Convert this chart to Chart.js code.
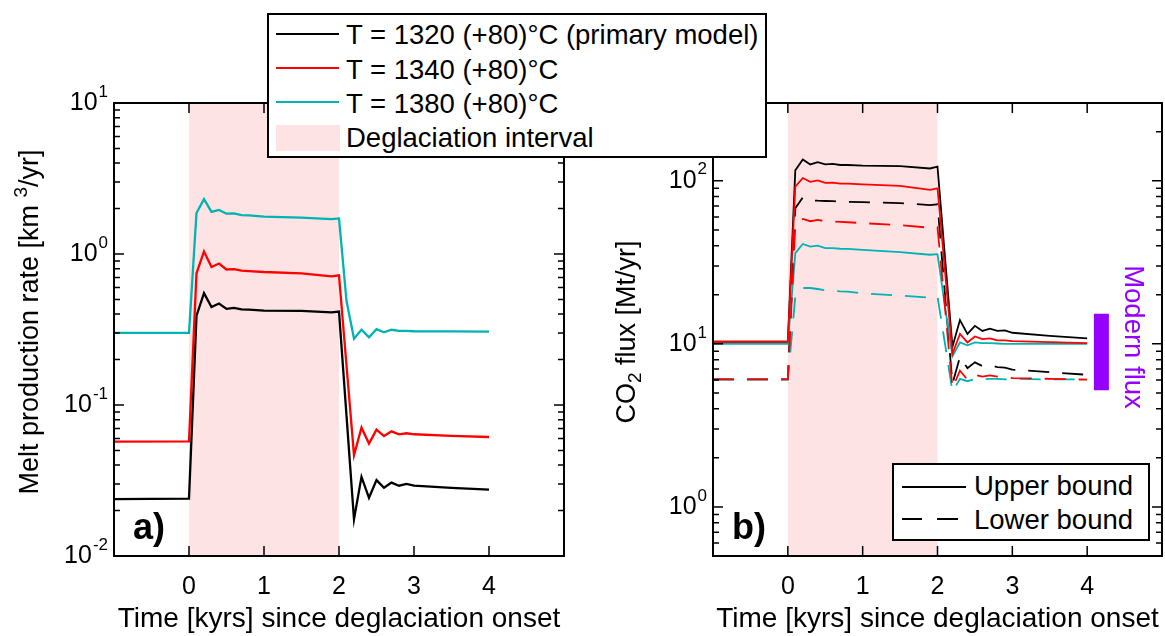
<!DOCTYPE html>
<html>
<head>
<meta charset="utf-8">
<script src="https://cdn.jsdelivr.net/npm/chart.js@4.4.1/dist/chart.umd.min.js"></script>
<style>
  html, body { margin: 0; padding: 0; background: #fff; }
  #fig { position: relative; width: 1165px; height: 636px; overflow: hidden;
         font-family: "Liberation Sans", Arial, Helvetica, sans-serif; color: #000; }
  #meltCanvas { position: absolute; left: 0; top: 0; }
  #fluxCanvas { position: absolute; left: 590px; top: 0; }
  .legend { position: absolute; background: #fff; border: 2px solid #000; box-sizing: border-box; z-index: 5; }
  .row { position: absolute; left: 0; right: 0; height: 32px; }
  .row .sw { position: absolute; }
  .row .txt { position: absolute; line-height: 32px; font-size: 27.5px; white-space: nowrap; }
</style>
</head>
<body>
<div id="fig">
  <canvas id="meltCanvas" width="590" height="636"></canvas>
  <canvas id="fluxCanvas" width="590" height="636"></canvas>

  <div class="legend" style="left:267px; top:13px; width:500px; height:145px;">
    <div class="row" style="top:4px;">
      <span class="sw" style="left:7px; top:13.5px; width:63px; height:2px; background:#000;"></span>
      <span class="txt" style="left:77px;">T = 1320 (+80)°C (primary model)</span>
    </div>
    <div class="row" style="top:38.5px;">
      <span class="sw" style="left:7px; top:13.5px; width:63px; height:2px; background:#ff0000;"></span>
      <span class="txt" style="left:77px;">T = 1340 (+80)°C</span>
    </div>
    <div class="row" style="top:72.5px;">
      <span class="sw" style="left:7px; top:13.5px; width:63px; height:2px; background:#00b3b3;"></span>
      <span class="txt" style="left:77px;">T = 1380 (+80)°C</span>
    </div>
    <div class="row" style="top:106.5px;">
      <span class="sw" style="left:7px; top:3.5px; width:64px; height:26px; background:rgb(253,227,228);"></span>
      <span class="txt" style="left:77px;">Deglaciation interval</span>
    </div>
  </div>

  <div class="legend" style="left:892px; top:463px; width:258px; height:78px;">
    <div class="row" style="top:5px;">
      <span class="sw" style="left:8px; top:15.5px; width:64px; height:2px; background:#000;"></span>
      <span class="txt" style="left:80px;">Upper bound</span>
    </div>
    <div class="row" style="top:39px;">
      <span class="sw" style="left:8px; top:14px; width:20px; height:2px; background:#000;"></span>
      <span class="sw" style="left:43px; top:14px; width:21px; height:2px; background:#000;"></span>
      <span class="txt" style="left:80px;">Lower bound</span>
    </div>
  </div>
</div>

<script>
// time since deglaciation onset (kyr)
const years = [-1, 0, 0.1, 0.2, 0.3, 0.4, 0.5, 0.6, 0.7, 0.8, 1.0, 1.5, 1.9, 2.0,
               2.1, 2.2, 2.3, 2.4, 2.5, 2.6, 2.7, 2.8, 2.9, 3.0, 3.5, 4.0];

// melt production rate (km^3/yr)
const melt1320 = [0.0238, 0.0240, 0.39, 0.55, 0.445, 0.47, 0.433, 0.44, 0.43, 0.428, 0.422, 0.42, 0.41, 0.416,
                  0.085, 0.0175, 0.0334, 0.0243, 0.0318, 0.0283, 0.0306, 0.0292, 0.0300, 0.0292, 0.0283, 0.0275];
const melt1340 = [0.0572, 0.0575, 0.745, 1.04, 0.82, 0.865, 0.79, 0.795, 0.776, 0.77, 0.76, 0.745, 0.71, 0.722,
                  0.183, 0.0465, 0.0708, 0.0555, 0.0687, 0.0623, 0.0669, 0.064, 0.065, 0.064, 0.0625, 0.0614];
const melt1380 = [0.30, 0.30, 1.87, 2.31, 1.90, 1.96, 1.85, 1.86, 1.81, 1.80, 1.77, 1.74, 1.70, 1.72,
                  0.49, 0.275, 0.315, 0.281, 0.318, 0.303, 0.315, 0.31, 0.31, 0.308, 0.307, 0.306];

// CO2 flux (Mt/yr), upper and lower bounds
const fluxUpper1320 = [10.3, 10.3, 116, 135, 126, 130, 126, 127, 125, 125, 124, 123, 119, 122,
                       34, 9.6, 14.0, 11.5, 12.9, 12.0, 12.4, 12.0, 12.1, 11.7, 11.2, 10.8];
const fluxUpper1340 = [10.3, 10.3, 92, 104, 98.5, 100.5, 97, 97.5, 96, 96, 95, 93, 88, 90,
                       28, 8.7, 11.5, 10.2, 11.1, 10.7, 10.8, 10.5, 10.5, 10.4, 10.25, 10.1];
const fluxUpper1380 = [10.0, 10.0, 36, 41, 39.5, 40, 38.7, 38.7, 38.3, 38.2, 37.7, 36.5, 35.2, 35.5,
                       17, 8.4, 10.2, 9.8, 10.2, 10.1, 10.1, 10.05, 10.0, 10.0, 10.0, 10.0];
const fluxLower1320 = [6.05, 6.05, 68, 79, 76, 75.5, 75.2, 75, 74.5, 74.3, 74, 73, 71, 71.8,
                       20, 5.7, 8.3, 7.1, 7.7, 7.3, 7.4, 7.2, 7.15, 6.95, 6.7, 6.46];
const fluxLower1340 = [6.05, 6.05, 53.5, 58.3, 56.5, 57.5, 56.5, 56.3, 56, 55.7, 55, 53.5, 51.5, 52,
                       16.7, 5.35, 6.84, 6.03, 6.46, 6.3, 6.4, 6.3, 6.25, 6.17, 6.1, 6.03];
const fluxLower1380 = [6.05, 6.05, 19.5, 22.0, 22.0, 21.7, 21.3, 21.2, 21.0, 20.9, 20.4, 19.8, 19.2, 19.5,
                       10, 5.1, 6.1, 5.9, 6.1, 6.05, 6.1, 6.1, 6.05, 6.1, 6.05, 6.05];

const deglaciation = [0, 2];          // kyr
const modernFlux = [5.2, 15.3];       // Mt/yr
const modernFluxTime = 4.19;          // kyr, where the bar sits
const xTickValues = [0, 1, 2, 3, 4];
const meltDecades = [-2, -1, 0, 1];
const fluxDecades = [0, 1, 2];

const FONT = '"Liberation Sans", Arial, Helvetica, sans-serif';
const BLACK = '#000000', RED = '#ff0000', TEAL = '#00b3b3';
const PINK = 'rgb(253,227,228)', PURPLE = '#9500ff';
const TICK_PX = 25, EXP_PX = 17;

const pts = (ys) => years.map((t, i) => ({ x: t, y: ys[i] }));

// text with one raised / lowered piece, centred at (cx, cy)
function richText(ctx, parts, cx, cy, size, angle) {
  ctx.save();
  ctx.translate(cx, cy);
  ctx.rotate(angle);
  ctx.textBaseline = 'middle';
  ctx.textAlign = 'left';
  const fontFor = p => `${p.s ? Math.round(size * 0.7) : size}px ${FONT}`;
  let total = 0;
  for (const p of parts) { ctx.font = fontFor(p); total += ctx.measureText(p.t).width; }
  let x = -total / 2;
  for (const p of parts) {
    ctx.font = fontFor(p);
    const dy = p.s === 1 ? -size * 0.36 : p.s === -1 ? size * 0.3 : 0;
    ctx.fillText(p.t, x, dy);
    x += ctx.measureText(p.t).width;
  }
  ctx.restore();
}

// MATLAB-like box: inward ticks on all sides, 10^n labels, y title, panel tag
const axesFrame = {
  id: 'axesFrame',
  beforeDatasetsDraw(chart, args, o) {
    const { ctx, chartArea: a, scales: { x } } = chart;
    const x0 = x.getPixelForValue(o.band[0]);
    const x1 = x.getPixelForValue(o.band[1]);
    ctx.save();
    ctx.fillStyle = PINK;
    ctx.fillRect(x0, a.top, x1 - x0, a.bottom - a.top);
    ctx.restore();
  },
  afterDraw(chart, args, o) {
    const { ctx, chartArea: a, scales: { x, y } } = chart;
    ctx.save();
    ctx.strokeStyle = '#000';
    ctx.lineWidth = 1.5;
    ctx.beginPath();
    for (const v of o.xTicks) {
      const px = x.getPixelForValue(v);
      ctx.moveTo(px, a.bottom); ctx.lineTo(px, a.bottom - 10);
      ctx.moveTo(px, a.top); ctx.lineTo(px, a.top + 10);
    }
    const lo = Math.floor(Math.log10(y.min)), hi = Math.ceil(Math.log10(y.max));
    for (let e = lo; e <= hi; e++) {
      for (let m = 1; m < 10; m++) {
        const v = m * Math.pow(10, e);
        if (v < y.min * 0.999 || v > y.max * 1.001) continue;
        const py = y.getPixelForValue(v);
        const len = m === 1 ? 10 : 6;
        ctx.moveTo(a.left, py); ctx.lineTo(a.left + len, py);
        ctx.moveTo(a.right, py); ctx.lineTo(a.right - len, py);
      }
    }
    ctx.stroke();
    ctx.lineWidth = 2;
    ctx.strokeRect(a.left, a.top, a.right - a.left, a.bottom - a.top);

    // decade labels 10^n
    ctx.fillStyle = '#000';
    ctx.textBaseline = 'middle';
    ctx.textAlign = 'left';
    for (const e of o.decades) {
      const py = y.getPixelForValue(Math.pow(10, e));
      const exp = e < 0 ? '-' + (-e) : String(e);
      ctx.font = `${TICK_PX}px ${FONT}`;
      const wb = ctx.measureText('10').width;
      ctx.font = `${EXP_PX}px ${FONT}`;
      const we = ctx.measureText(exp).width;
      const right = a.left - 6;
      ctx.font = `${TICK_PX}px ${FONT}`;
      ctx.fillText('10', right - we - wb - 1, py);
      ctx.font = `${EXP_PX}px ${FONT}`;
      ctx.fillText(exp, right - we, py - 11);
    }

    richText(ctx, o.title, o.titleX, o.titleY, 27, -Math.PI / 2);

    ctx.font = `bold 36px ${FONT}`;
    ctx.textBaseline = 'alphabetic';
    ctx.fillText(o.tag, a.left + 19, a.bottom - 17);

    if (o.note) {
      ctx.fillStyle = PURPLE;
      ctx.font = `27.5px ${FONT}`;
      ctx.textAlign = 'center';
      ctx.textBaseline = 'middle';
      ctx.translate(a.right - 29, 337);
      ctx.rotate(Math.PI / 2);
      ctx.fillText(o.note, 0, 0);
    }
    ctx.restore();
  }
};

function xScale() {
  return {
    type: 'linear', min: -1, max: 5,
    grid: { display: false, drawTicks: false },
    border: { display: false },
    ticks: {
      stepSize: 1, padding: 16, color: '#000', autoSkip: false, maxRotation: 0,
      font: { family: FONT, size: TICK_PX },
      callback: v => xTickValues.includes(v) ? String(v) : ''
    },
    title: {
      display: true, text: 'Time [kyrs] since deglaciation onset', color: '#000',
      font: { family: FONT, size: 28 }, padding: { top: 0, bottom: 0 }
    },
    afterFit: s => { s.height = 80; }
  };
}

function line(data, color, width, order, dash) {
  return {
    data: pts(data), borderColor: color, borderWidth: width, borderDash: dash || [],
    pointRadius: 0, tension: 0, fill: false, order: order
  };
}

const common = {
  responsive: false, animation: false,
  plugins: { legend: { display: false }, tooltip: { enabled: false } },
  events: []
};

new Chart(document.getElementById('meltCanvas'), {
  type: 'line',
  data: {
    datasets: [
      line(melt1320, BLACK, 2.3, 2),
      line(melt1340, RED, 2.3, 0),
      line(melt1380, TEAL, 2.3, 1)
    ]
  },
  options: {
    ...common,
    layout: { padding: { left: 114, right: 26, top: 103, bottom: 0 }, autoPadding: false },
    scales: {
      x: xScale(),
      y: { type: 'logarithmic', display: false, min: 0.01, max: 10 }
    },
    plugins: {
      ...common.plugins,
      axesFrame: {
        band: deglaciation, xTicks: xTickValues, decades: meltDecades, tag: 'a)',
        title: [{ t: 'Melt production rate [km ' }, { t: '3', s: 1 }, { t: '/yr]' }],
        titleX: 31, titleY: 322
      }
    }
  },
  plugins: [axesFrame]
});

const DASH = [21, 13];
new Chart(document.getElementById('fluxCanvas'), {
  type: 'line',
  data: {
    datasets: [
      line(fluxUpper1320, BLACK, 1.8, 4),
      line(fluxUpper1340, RED, 1.8, 0),
      line(fluxUpper1380, TEAL, 1.8, 2),
      line(fluxLower1320, BLACK, 1.8, 5, DASH),
      line(fluxLower1340, RED, 1.8, 1, DASH),
      line(fluxLower1380, TEAL, 1.8, 3, DASH),
      {
        data: [{ x: modernFluxTime, y: modernFlux[0] }, { x: modernFluxTime, y: modernFlux[1] }],
        borderColor: PURPLE, borderWidth: 15, borderCapStyle: 'butt', pointRadius: 0, order: 6
      }
    ]
  },
  options: {
    ...common,
    layout: { padding: { left: 123, right: 18, top: 103, bottom: 0 }, autoPadding: false },
    scales: {
      x: xScale(),
      y: { type: 'logarithmic', display: false, min: 0.5, max: 300 }
    },
    plugins: {
      ...common.plugins,
      axesFrame: {
        band: deglaciation, xTicks: xTickValues, decades: fluxDecades, tag: 'b)',
        title: [{ t: 'CO' }, { t: '2', s: -1 }, { t: ' flux [Mt/yr]' }],
        titleX: 38, titleY: 332, note: 'Modern flux'
      }
    }
  },
  plugins: [axesFrame]
});
</script>
</body>
</html>
